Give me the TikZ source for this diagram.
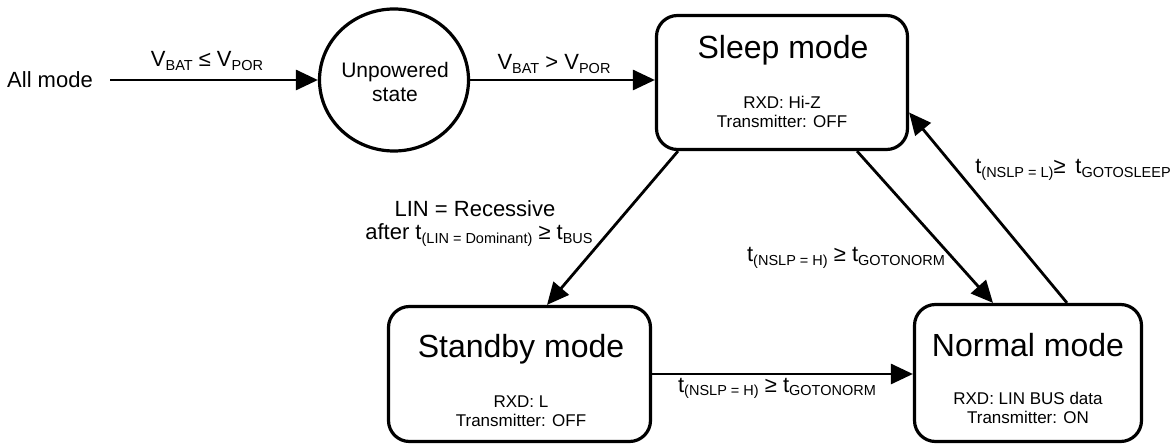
\documentclass[tikz,border=0pt]{standalone}
\usepackage{fontspec}
\setmainfont{Liberation Sans}
\usetikzlibrary{arrows.meta,calc,shapes.geometric}
\newcommand\lblfont{\fontsize{22}{24}\selectfont}
\newcommand\ttlfont{\fontsize{32}{36}\selectfont}
\newcommand\smlfont{\fontsize{17}{19}\selectfont}
\newcommand\sbs[1]{\raisebox{-3.5pt}{\fontsize{14.5}{15}\selectfont #1}}
\begin{document}
\begin{tikzpicture}[x=1pt,y=-1pt,
  box/.style={draw,line width=3.2pt,rounded corners=21pt,inner sep=0pt},
  conn/.style={line width=2.8pt,-{Triangle[length=22pt,width=20pt]}},
  lab/.style={inner sep=0pt,anchor=base,font=\lblfont},
  ttl/.style={inner sep=0pt,anchor=base,font=\ttlfont},
  info/.style={inner sep=0pt,anchor=base,font=\smlfont}]
\useasboundingbox (0,0) rectangle (1176,446);

% nodes
\node[lab] (all) at (50,88) {All mode};
\coordinate (s0) at (110,80);
\node[draw,ellipse,line width=3.2pt,minimum width=149pt,minimum height=142pt,inner sep=0pt] (unp) at (394,80) {};
\node[lab,font=\fontsize{21}{24}\selectfont] (unptxt1) at (395,78) {Unpowered};
\node[lab,font=\fontsize{21}{24}\selectfont] (unptxt2) at (395,102) {state};

\node[box,minimum width=251pt,minimum height=134pt] (sleep) at (782,82.5) {};
\node[ttl] (sleeptitle) at (783,59) {Sleep mode};
\node[info] (sleepinfo1) at (782,109) {RXD: Hi-Z};
\node[info] (sleepinfo2) at (782,128) {Transmitter: OFF};

\node[box,minimum width=262pt,minimum height=135pt] (standby) at (519.5,374) {};
\node[ttl] (standbytitle) at (521,358) {Standby mode};
\node[info] (standbyinfo1) at (521,407) {RXD: L};
\node[info] (standbyinfo2) at (521,427) {Transmitter: OFF};

\node[box,minimum width=227pt,minimum height=137pt] (normal) at (1028,373) {};
\node[ttl] (normaltitle) at (1028,357) {Normal mode};
\node[info] (normalinfo1) at (1028,405) {RXD: LIN BUS data};
\node[info] (normalinfo2) at (1028,424) {Transmitter: ON};

% connectors
\draw[conn] (s0) -- (unp);
\draw[conn] (unp) -- (unp -| sleep.west);
\draw[conn] ($(sleep.south)+(-104,0)$) -- ($(standby.north)+(27.5,0)$);
\draw[conn] ($(sleep.south)+(75,0)$) -- ($(normal.north)+(-35,0)$);
\draw[conn] ($(normal.north)+(39,0)$) -- ($(sleep.east)+(0,30)$);
\draw[conn] (standby.east) -- (standby.east -| normal.west);

% labels
\node[lab] (l1) at (207,67) {V\sbs{BAT} ≤ V\sbs{POR}};
\node[lab] (l2) at (554,70) {V\sbs{BAT} > V\sbs{POR}};
\node[lab] (l3a) at (475,217) {LIN = Recessive};
\node[lab] (l3b) at (479,240) {after t\sbs{(LIN = Dominant)} ≥ t\sbs{BUS}};
\node[lab] (l4) at (846,262) {t\sbs{(NSLP = H)} ≥ t\sbs{GOTONORM}};
\node[lab] (l5) at (1073,174) {t\sbs{(NSLP = L)}≥ \,t\sbs{GOTOSLEEP}};
\node[lab] (l6) at (777,392) {t\sbs{(NSLP = H)} ≥ t\sbs{GOTONORM}};
\end{tikzpicture}
\end{document}
